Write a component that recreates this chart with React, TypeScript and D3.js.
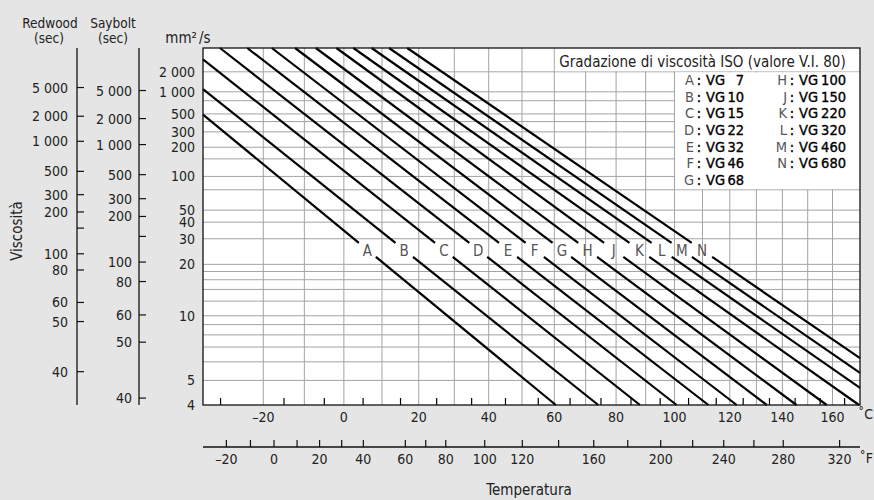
import React from 'react';
import * as d3 from 'd3';

const W = 874;
const H = 500;
const plot = { left: 203, right: 860, top: 48, bottom: 405 };

// ISO grades (lines)
const gradeLetters = ['A', 'B', 'C', 'D', 'E', 'F', 'G', 'H', 'J', 'K', 'L', 'M', 'N'];
const gradeVG = [7, 10, 15, 22, 32, 46, 68, 100, 150, 220, 320, 460, 680];
const visc40 = [6.8, 9.8, 14.8, 22, 32, 46, 68, 100, 150, 220, 320, 460, 680];
const visc100 = [1.94, 2.48, 3.19, 4.06, 5.08, 6.29, 7.98, 10.17, 13.15, 17.19, 21.75, 27.1, 34.18];
const labelVisc = 25;

// mm2/s axis
const cstTicks = [2000, 1000, 500, 300, 200, 100, 50, 40, 30, 20, 10, 5, 4];
const cstTickLabels = ['2 000', '1 000', '500', '300', '200', '100', '50', '40', '30', '20', '10', '5', '4'];
const cstGrid = [5, 6, 7, 8, 9, 10, 12, 14, 16, 18, 20, 30, 40, 50, 75, 100, 150, 200, 300, 400, 500, 750, 1000, 2000];

// Redwood / Saybolt seconds (tick label, equivalent mm2/s)
const redwoodLabels = ['5 000', '2 000', '1 000', '500', '300', '200', '', '100', '80', '60', '50', '40'];
const redwoodCst = [1154, 467, 233, 112, 67.8, 48.3, 36, 23.5, 18.4, 11.8, 9.33, 5.44];
const sayboltLabels = ['5 000', '2 000', '1 000', '500', '300', '200', '', '100', '80', '60', '50', '40'];
const sayboltCst = [1044, 436, 214, 104, 62.5, 44.4, 31.2, 20.7, 15.6, 10.1, 7.38, 4.25];

// temperature axes
const celsiusGrid = [-20, -10, 0, 10, 20, 30, 40, 50, 60, 70, 80, 90, 100, 110, 120, 130, 140, 150, 160];
const celsiusLabels = [-20, 0, 20, 40, 60, 80, 100, 120, 140, 160];
const celsiusTicks = [-30, -15, -5, 5, 15, 25, 35, 45, 55, 65, 75, 85, 95, 105, 115, 125, 135, 145, 155, 165];
const fahrenheitTicks = [-20, -10, 0, 10, 20, 30, 40, 60, 70, 80, 100, 120, 140, 160, 180, 200, 220, 240, 260, 280, 320];
const fahrenheitLabels = [-20, 0, 20, 40, 60, 80, 100, 120, 160, 200, 240, 280, 320];

const FONT = "'DejaVu Sans Condensed', 'DejaVu Sans', sans-serif";
const TXT = '#222';
const GRID = '#a3a3a3';
const NUM = 14;

const ll = (v: number) => Math.log10(Math.log10(v + 0.7));
const yLin = d3.scaleLinear().domain([ll(4), ll(5000)]).range([plot.bottom, plot.top]);
const y = (v: number) => yLin(ll(v));
const lk = (t: number) => Math.log10(t + 273.15);
const xLin = d3.scaleLinear().domain([lk(-34), lk(171.4)]).range([plot.left, plot.right]);
const x = (t: number) => xLin(lk(t));
const lr = (f: number) => Math.log10(f + 459.67);
const xFLin = d3.scaleLinear().domain([lr(-29.5), lr(335)]).range([plot.left, plot.right]);
const xF = (f: number) => xFLin(lr(f));

const fmtT = (t: number) => (t < 0 ? '–' + Math.abs(t) : String(t));
const lineGen = d3.line();

function gradeGeometry(i: number) {
  const x1 = x(40), y1 = y(visc40[i]);
  const x2 = x(100), y2 = y(visc100[i]);
  const m = (y2 - y1) / (x2 - x1);
  const atY = (yy: number) => x1 + (yy - y1) / m;
  const atX = (xx: number) => y1 + m * (xx - x1);
  const xa = Math.max(plot.left, atY(plot.top));
  const xb = Math.min(plot.right, atY(plot.bottom));
  const yl = y(labelVisc);
  const xl = atY(yl);
  const gap = 7;
  const g1 = atY(yl - gap), g2 = atY(yl + gap);
  const seg1 = lineGen([[xa, atX(xa)], [g1, atX(g1)]]) as string;
  const seg2 = lineGen([[g2, atX(g2)], [xb, atX(xb)]]) as string;
  return { seg1, seg2, xl, yl };
}

export default function App() {
  const x60 = x(60), x100 = x(100);
  const rowY = (k: number) => 80 + k * 16.67;
  const col1 = gradeLetters.slice(0, 7).map((l, k) => ({ l, vg: gradeVG[k], k }));
  const col2 = gradeLetters.slice(7).map((l, k) => ({ l, vg: gradeVG[k + 7], k }));

  const legendRow = (l: string, vg: number, k: number, lx: number, nx: number) => (
    <g key={l} fontSize={14.5}>
      <text x={lx} y={rowY(k)} textAnchor="end" dominantBaseline="central" fill="#555">{l}</text>
      <text x={lx + 5} y={rowY(k)} textAnchor="middle" dominantBaseline="central" fill="#000" stroke="#000" strokeWidth={0.35}>:</text>
      <text x={lx + 12} y={rowY(k)} textAnchor="start" dominantBaseline="central" fill="#000" stroke="#000" strokeWidth={0.35}>VG</text>
      <text x={nx} y={rowY(k)} textAnchor="end" dominantBaseline="central" fill="#000" stroke="#000" strokeWidth={0.35}>{vg}</text>
    </g>
  );

  return (
    <svg width={W} height={H} style={{ position: 'absolute', left: 0, top: 0 }} fontFamily={FONT} fontSize={15}>
      <rect x={0} y={0} width={W} height={H} fill="#e5e5e5" />
      <rect x={plot.left} y={plot.top} width={plot.right - plot.left} height={plot.bottom - plot.top} fill="#fff" />

      {/* grid */}
      {cstGrid.map((v) => (
        <line key={'h' + v} x1={plot.left} x2={plot.right} y1={y(v)} y2={y(v)} stroke={GRID} strokeWidth={1} />
      ))}
      {celsiusGrid.map((t) => (
        <line key={'v' + t} x1={x(t)} x2={x(t)} y1={plot.top} y2={plot.bottom} stroke={GRID} strokeWidth={1} />
      ))}

      {/* legend boxes (hide grid) */}
      <rect x={x60 + 0.6} y={plot.top} width={plot.right - x60 - 0.6} height={y(2000) - plot.top - 0.6} fill="#fff" />
      <rect x={x100 + 0.6} y={y(2000) + 0.6} width={plot.right - x100 - 0.6} height={y(75) - y(2000) - 1.2} fill="#fff" />

      {/* grade lines */}
      {gradeLetters.map((l, i) => {
        const g = gradeGeometry(i);
        return (
          <g key={l}>
            <path d={g.seg1} stroke="#000" strokeWidth={2.2} fill="none" />
            <path d={g.seg2} stroke="#000" strokeWidth={2.2} fill="none" />
            <text x={g.xl} y={g.yl + 1.5} textAnchor="middle" dominantBaseline="central" fill="#555">{l}</text>
          </g>
        );
      })}

      {/* celsius ticks */}
      {celsiusTicks.map((t) => (
        <line key={'ct' + t} x1={x(t)} x2={x(t)} y1={plot.bottom} y2={plot.bottom - 7} stroke="#000" strokeWidth={1.2} />
      ))}

      {/* frame */}
      <rect x={plot.left} y={plot.top} width={plot.right - plot.left} height={plot.bottom - plot.top} fill="none" stroke="#111" strokeWidth={1.3} />

      {/* legend text */}
      <text x={x60 + 5} y={61.7} dominantBaseline="central" fill={TXT}>Gradazione di viscosità ISO (valore V.I. 80)</text>
      {col1.map((r) => legendRow(r.l, r.vg, r.k, 694, 744))}
      {col2.map((r) => legendRow(r.l, r.vg, r.k, 787, 846))}

      {/* mm2/s axis labels */}
      {cstTicks.map((v, i) => (
        <text key={'cl' + v} x={195} y={y(v)} textAnchor="end" dominantBaseline="central" fill={TXT} fontSize={NUM}>{cstTickLabels[i]}</text>
      ))}
      <text x={197} y={43} textAnchor="end" fill={TXT}>mm²</text>
      <text x={199} y={43} textAnchor="start" fill={TXT}>/s</text>

      {/* Redwood axis */}
      <line x1={77} x2={77} y1={plot.top} y2={plot.bottom} stroke="#111" strokeWidth={1.3} />
      {redwoodCst.map((v, i) => (
        <g key={'rw' + i}>
          <line x1={77} x2={84} y1={y(v)} y2={y(v)} stroke="#111" strokeWidth={1.2} />
          <text x={68} y={y(v)} textAnchor="end" dominantBaseline="central" fill={TXT} fontSize={NUM}>{redwoodLabels[i]}</text>
        </g>
      ))}
      <text x={50} y={23} textAnchor="middle" dominantBaseline="central" fill={TXT} fontSize={13.5}>Redwood</text>
      <text x={49} y={37.5} textAnchor="middle" dominantBaseline="central" fill={TXT} fontSize={13.5}>(sec)</text>

      {/* Saybolt axis */}
      <line x1={139} x2={139} y1={plot.top} y2={plot.bottom} stroke="#111" strokeWidth={1.3} />
      {sayboltCst.map((v, i) => (
        <g key={'sb' + i}>
          <line x1={139} x2={146} y1={y(v)} y2={y(v)} stroke="#111" strokeWidth={1.2} />
          <text x={132} y={y(v)} textAnchor="end" dominantBaseline="central" fill={TXT} fontSize={NUM}>{sayboltLabels[i]}</text>
        </g>
      ))}
      <text x={113} y={23} textAnchor="middle" dominantBaseline="central" fill={TXT} fontSize={13.5}>Saybolt</text>
      <text x={113} y={37.5} textAnchor="middle" dominantBaseline="central" fill={TXT} fontSize={13.5}>(sec)</text>

      <text transform={`translate(17,231) rotate(-90)`} textAnchor="middle" dominantBaseline="central" fill={TXT}>Viscosità</text>

      {/* celsius labels */}
      {celsiusLabels.map((t) => (
        <text key={'cx' + t} x={x(t)} y={416.7} textAnchor="middle" dominantBaseline="central" fill={TXT} fontSize={NUM}>{fmtT(t)}</text>
      ))}
      <text x={873} y={414} textAnchor="end" dominantBaseline="central" fill={TXT} fontSize={NUM}>˚C</text>

      {/* fahrenheit axis */}
      <line x1={plot.left} x2={plot.right} y1={447} y2={447} stroke="#111" strokeWidth={1.3} />
      {fahrenheitTicks.map((f) => (
        <line key={'ft' + f} x1={xF(f)} x2={xF(f)} y1={447} y2={440} stroke="#111" strokeWidth={1.2} />
      ))}
      {fahrenheitLabels.map((f) => (
        <text key={'fl' + f} x={xF(f)} y={458.5} textAnchor="middle" dominantBaseline="central" fill={TXT} fontSize={NUM}>{fmtT(f)}</text>
      ))}
      <text x={873} y={458} textAnchor="end" dominantBaseline="central" fill={TXT} fontSize={NUM}>˚F</text>

      <text x={529} y={490} textAnchor="middle" dominantBaseline="central" fill={TXT}>Temperatura</text>
    </svg>
  );
}
